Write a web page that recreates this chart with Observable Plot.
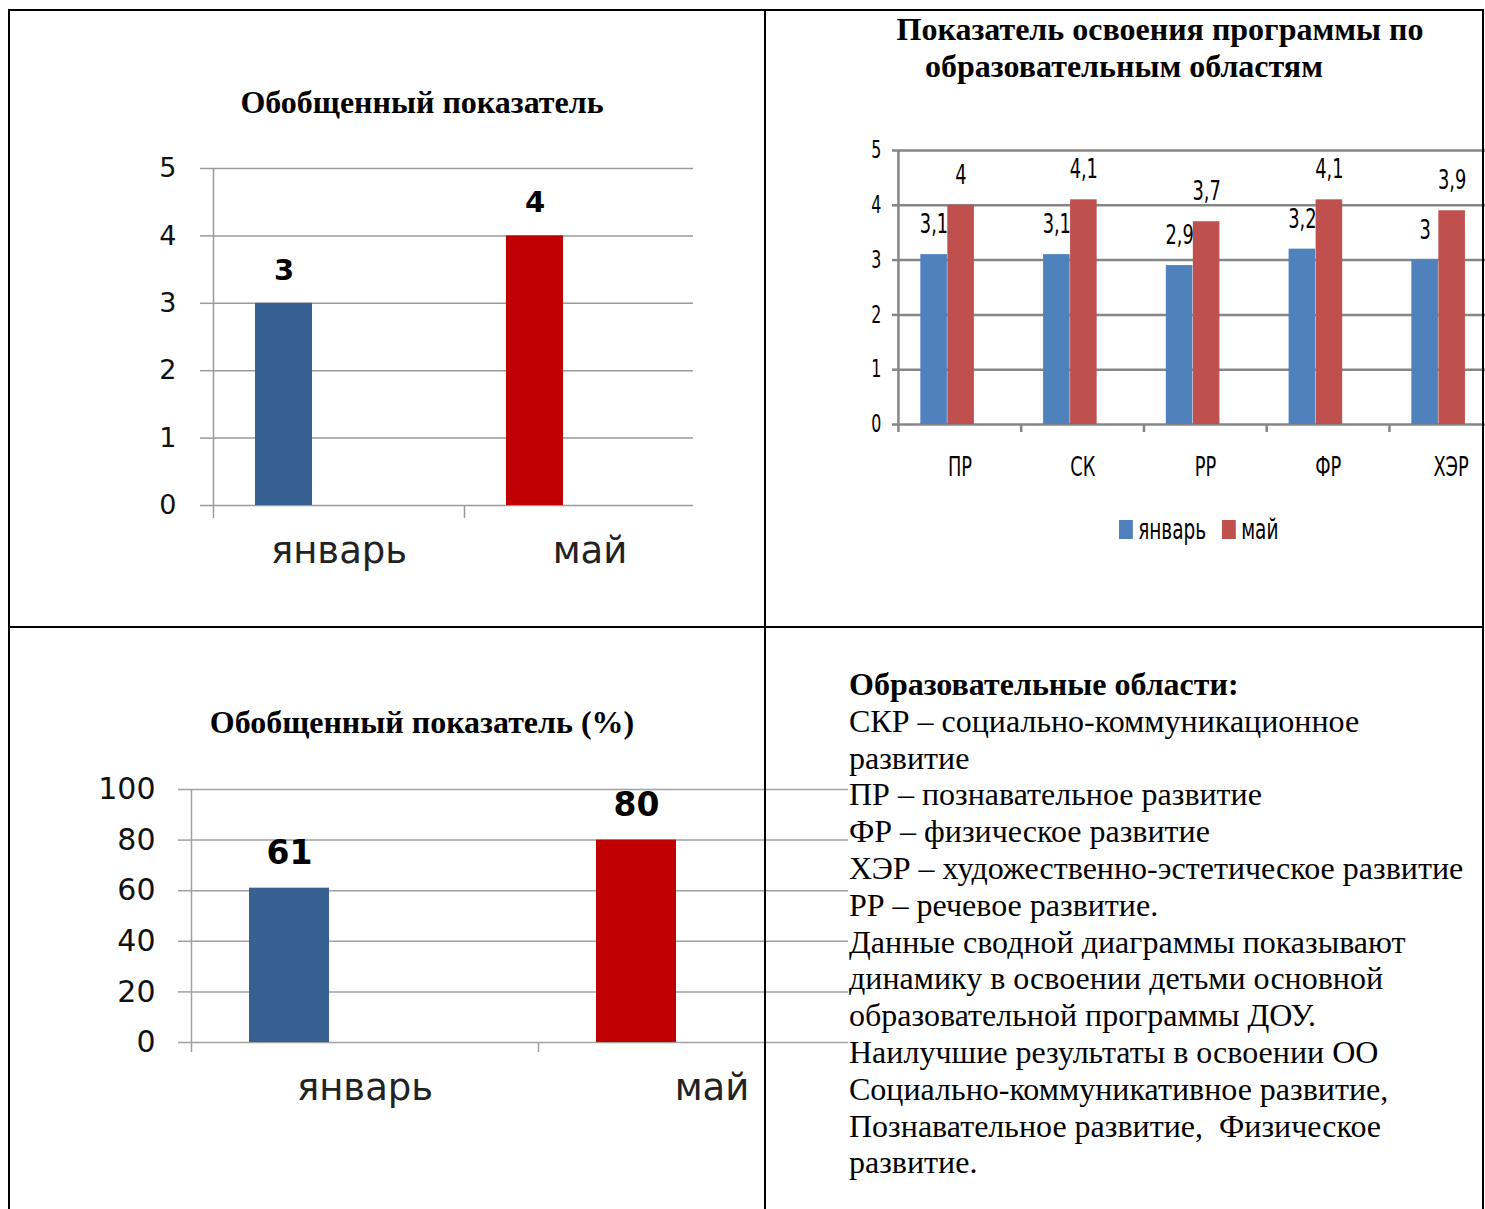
<!DOCTYPE html>
<html>
<head>
<meta charset="utf-8">
<script src="https://cdn.jsdelivr.net/npm/d3@7"></script>
<script src="https://cdn.jsdelivr.net/npm/@observablehq/plot@0.6"></script>
<style>
  body { margin: 0; background: #fff; }
  #page { position: relative; width: 1485px; height: 1209px; overflow: hidden; background: #fff; }
  .ln { position: absolute; background: #000; z-index: 10; }
  .wrap { position: absolute; }
  .wrap svg { max-width: none !important; background: transparent !important; overflow: visible; }
  .title { position: absolute; width: 800px; text-align: center; white-space: nowrap; color: #000;
           font-family: "Liberation Serif", "Times New Roman", serif; font-weight: bold; font-size: 32px; line-height: 37px; }
  #info { position: absolute; left: 849px; top: 666px; white-space: pre; color: #000;
          font-family: "Liberation Serif", "Times New Roman", serif; font-size: 32px; line-height: 36.8px; }
  #legend2 { position: absolute; left: 1119px; top: 513px; transform: scaleX(0.66); transform-origin: 0 0;
             font-family: "DejaVu Sans", sans-serif; font-size: 28px; white-space: nowrap; display: flex; align-items: center; height: 32px; }
  #legend2 .sw { display: inline-block; width: 21px; height: 19px; margin-right: 8px; }
  #legend2 .it { display: inline-flex; align-items: center; margin-right: 24px; }
</style>
</head>
<body>
<div id="page">
  <div class="title" style="left:22px; top:84px;">Обобщенный показатель</div>
  <div class="title" style="left:760px; top:11px;">Показатель освоения программы по</div>
  <div class="title" style="left:724px; top:48px;">образовательным областям</div>
  <div class="title" style="left:22px; top:704px;">Обобщенный показатель (%)</div>

  <div class="wrap" id="c1" style="left:0px; top:130px; width:765px;"></div>
  <div class="wrap" id="c2" style="left:765px; top:130px; width:1091px;"></div>
  <div id="legend2"></div>
  <div class="wrap" id="c3" style="left:0px; top:760px; width:850px;"></div>
  <div id="info"></div>

  <div class="ln" style="left:8px; top:9px; width:1476px; height:2px;"></div>
  <div class="ln" style="left:8px; top:9px; width:2px; height:1200px;"></div>
  <div class="ln" style="left:764px; top:9px; width:2px; height:1200px;"></div>
  <div class="ln" style="left:1482px; top:9px; width:2px; height:1200px;"></div>
  <div class="ln" style="left:8px; top:626px; width:1476px; height:2px;"></div>
</div>

<script>
// ---------- data ----------
const months = ["январь", "май"];
const overall = [3, 4];
const overallPct = [61, 80];
const areas = ["ПР", "СК", "РР", "ФР", "ХЭР"];
const janValues = [3.1, 3.1, 2.9, 3.2, 3.0];
const mayValues = [4.0, 4.1, 3.7, 4.1, 3.9];
const yTicks5 = [0, 1, 2, 3, 4, 5];
const yTicks100 = [0, 20, 40, 60, 80, 100];
const monthColors = ["#376092", "#C00000"];
const seriesColors = ["#4F81BD", "#C0504D"];
const infoLines = [
  "Образовательные области:",
  "СКР – социально-коммуникационное",
  "развитие",
  "ПР – познавательное развитие",
  "ФР – физическое развитие",
  "ХЭР – художественно-эстетическое развитие",
  "РР – речевое развитие.",
  "Данные сводной диаграммы показывают",
  "динамику в освоении детьми основной",
  "образовательной программы ДОУ.",
  "Наилучшие результаты в освоении ОО",
  "Социально-коммуникативное развитие,",
  "Познавательное развитие,  Физическое",
  "развитие."
];

const sans = "'DejaVu Sans', Verdana, sans-serif";
const comma = v => String(v).replace(".", ",");
const plain = d => String(d);

// ---------- chart 1: Обобщенный показатель ----------
{
  const data = months.map((m, i) => ({month: m, value: overall[i], color: monthColors[i]}));
  const bw = (715 - 213) / months.length;
  const grid = "#9a9a9a";
  const svg = Plot.plot({
    width: 765, height: 470,
    marginLeft: 213, marginRight: 72, marginTop: 38, marginBottom: 95,
    style: {fontFamily: sans, background: "transparent", color: "#000"},
    x: {type: "band", domain: months, range: [213, 715], padding: 0, label: null},
    y: {domain: [0, 5], label: null},
    color: {type: "identity"},
    marks: [
      Plot.gridY({ticks: yTicks5, stroke: grid, strokeOpacity: 1, strokeWidth: 1.5}),
      Plot.axisY({ticks: yTicks5, tickFormat: plain, tickSize: 13, tickPadding: 24, stroke: grid, strokeWidth: 1.5,
                  fontSize: 27, fill: "#111", label: null}),
      Plot.ruleX([months[0]], {dx: -bw / 2, stroke: grid, strokeWidth: 1.5}),
      Plot.axisX({ticks: months, tickSize: 13, dx: -bw / 2, tickFormat: () => "", stroke: grid, strokeWidth: 1.5, label: null}),
      Plot.axisX({ticks: months, tickSize: 0, tickPadding: 31, fontSize: 37, fill: "#222", label: null}),
      Plot.barY(data, {x: "month", y: "value", fill: "color", insetLeft: 42, insetRight: 152}),
      Plot.text(data, {x: "month", y: "value", text: d => String(d.value), dx: -55, dy: -33,
                       fontSize: 29, fontWeight: "bold", fill: "#000"})
    ]
  });
  document.getElementById("c1").appendChild(svg);
}

// ---------- chart 2: Показатель освоения программы по образовательным областям ----------
{
  const s = 0.66; // horizontal compression of the original chart picture
  const jan = areas.map((a, i) => ({area: a, value: janValues[i]}));
  const may = areas.map((a, i) => ({area: a, value: mayValues[i]}));
  const left = (897 - 765) / s;
  const bw = 123.2 / s;
  const grid = "#868686";
  const svg = Plot.plot({
    width: 1091, height: 440,
    marginLeft: left, marginRight: 0, marginTop: 20, marginBottom: 146,
    style: {fontFamily: sans, background: "transparent", color: "#000"},
    x: {type: "band", domain: areas, range: [left, left + bw * areas.length], padding: 0, label: null},
    y: {domain: [0, 5], label: null},
    marks: [
      Plot.gridY({ticks: yTicks5, stroke: grid, strokeOpacity: 1, strokeWidth: 2.5}),
      Plot.axisY({ticks: yTicks5, tickFormat: plain, tickSize: 5 / s, tickPadding: 11 / s, stroke: grid, strokeWidth: 2.5,
                  fontSize: 24, fill: "#000", label: null}),
      Plot.ruleX([areas[0]], {dx: -bw / 2, stroke: grid, strokeWidth: 2.5 / s}),
      Plot.axisX({ticks: areas, tickSize: 8, dx: -bw / 2, tickFormat: () => "", stroke: grid, strokeWidth: 2.5 / s, label: null}),
      Plot.axisX({ticks: areas, tickSize: 0, tickPadding: 32, fontSize: 27, fill: "#000", label: null}),
      Plot.barY(jan, {x: "area", y: "value", fill: seriesColors[0], insetLeft: 22 / s, insetRight: bw - 49 / s}),
      Plot.barY(may, {x: "area", y: "value", fill: seriesColors[1], insetLeft: 49 / s, insetRight: bw - 76 / s}),
      Plot.text(jan, {x: "area", y: "value", text: d => comma(d.value), dx: -26 / s, dy: -30, fontSize: 27, fill: "#000"}),
      Plot.text(may, {x: "area", y: "value", text: d => comma(d.value), dx: 1 / s, dy: -30, fontSize: 27, fill: "#000"})
    ]
  });
  svg.style.transform = `scaleX(${s})`;
  svg.style.transformOrigin = "0 0";
  document.getElementById("c2").appendChild(svg);

  const lg = document.getElementById("legend2");
  months.forEach((m, i) => {
    const it = document.createElement("span");
    it.className = "it";
    const sw = document.createElement("span");
    sw.className = "sw";
    sw.style.background = seriesColors[i];
    it.appendChild(sw);
    it.appendChild(document.createTextNode(m));
    lg.appendChild(it);
  });
}

// ---------- chart 3: Обобщенный показатель (%) ----------
{
  const data = months.map((m, i) => ({month: m, value: overallPct[i], color: monthColors[i]}));
  const bw = (885 - 191) / months.length;
  const grid = "#a0a0a0";
  const svg = Plot.plot({
    width: 850, height: 400,
    marginLeft: 191, marginRight: 2, marginTop: 29, marginBottom: 118,
    style: {fontFamily: sans, background: "transparent", color: "#000"},
    x: {type: "band", domain: months, range: [191, 885], padding: 0, label: null},
    y: {domain: [0, 100], label: null},
    color: {type: "identity"},
    marks: [
      Plot.gridY({ticks: yTicks100, stroke: grid, strokeOpacity: 1, strokeWidth: 1.5}),
      Plot.axisY({ticks: yTicks100, tickFormat: plain, tickSize: 13, tickPadding: 23, stroke: grid, strokeWidth: 1.5,
                  fontSize: 30, fill: "#111", label: null}),
      Plot.ruleX([months[0]], {dx: -bw / 2, stroke: grid, strokeWidth: 1.5}),
      Plot.axisX({ticks: months, tickSize: 10, dx: -bw / 2, tickFormat: () => "", stroke: grid, strokeWidth: 1.5, label: null}),
      Plot.axisX({ticks: months, tickSize: 0, tickPadding: 31, fontSize: 37, fill: "#222", label: null}),
      Plot.barY(data, {x: "month", y: "value", fill: "color", insetLeft: 58, insetRight: 209}),
      Plot.text(data, {x: "month", y: "value", text: d => String(d.value), dx: -75.5, dy: -35,
                       fontSize: 33, fontWeight: "bold", fill: "#000"})
    ]
  });
  document.getElementById("c3").appendChild(svg);
}

// ---------- text block ----------
{
  const box = document.getElementById("info");
  infoLines.forEach((t, i) => {
    const d = document.createElement("div");
    d.textContent = t;
    if (i === 0) d.style.fontWeight = "bold";
    box.appendChild(d);
  });
}
</script>
</body>
</html>
